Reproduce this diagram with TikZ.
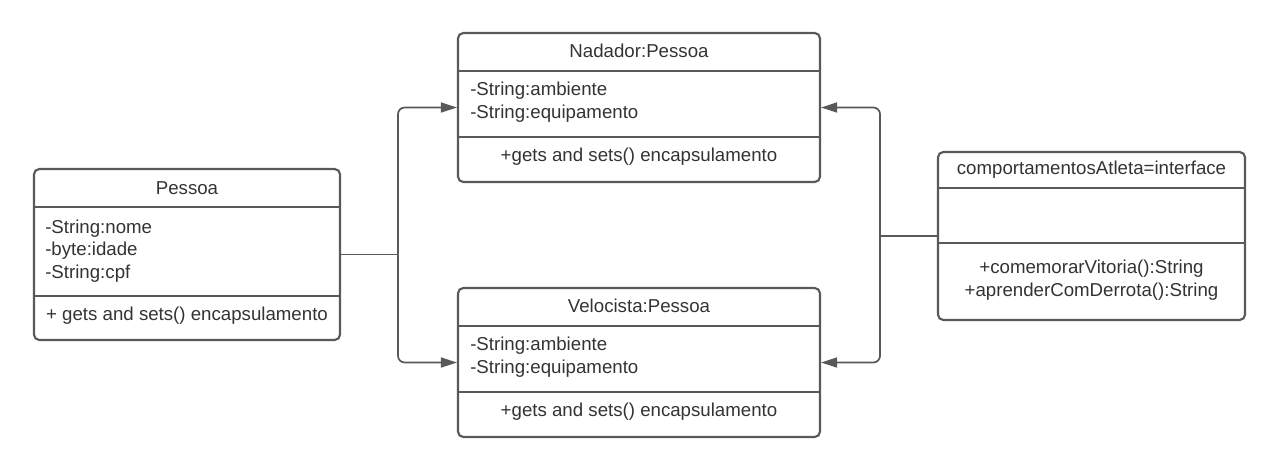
\documentclass[tikz,border=0pt]{standalone}
\usepackage{fontspec}
\setmainfont{Liberation Sans}
\usetikzlibrary{arrows.meta}
\definecolor{umlline}{HTML}{595959}
\definecolor{umltext}{HTML}{333333}
\tikzset{
  classbox/.style={draw=umlline, line width=1.6pt, rounded corners=4pt, inner sep=0pt},
  divider/.style={draw=umlline, line width=1.6pt},
  conn/.style={draw=umlline, line width=1.3pt, rounded corners=5pt},
  memtext/.style={text=umltext, font=\fontsize{14}{17}\selectfont, inner sep=0pt},
}
\begin{document}
\begin{tikzpicture}[x=0.75pt, y=-0.75pt, >={Triangle[length=12pt,width=7.5pt]}]
	\useasboundingbox (0,0) rectangle (1280,471);
	% class boxes
	\node[classbox, minimum width=229.5pt, minimum height=128.25pt] (pessoa) at (187,254.5) {};
	\node[classbox, minimum width=271.5pt, minimum height=111.75pt] (nadador) at (639,107.5) {};
	\node[classbox, minimum width=271.5pt, minimum height=111.75pt] (velocista) at (639,362.5) {};
	\node[classbox, minimum width=230.25pt, minimum height=126pt] (atleta) at (1091.5,236) {};
	
	\draw[divider] (pessoa.west |- 0,207)--(pessoa.east |- 0,207)
	(pessoa.west |- 0,296)--(pessoa.east |- 0,296);
	\draw[divider] (nadador.west |- 0,71)--(nadador.east |- 0,71)
	(nadador.west |- 0,137)--(nadador.east |- 0,137);
	\draw[divider] (velocista.west |- 0,326)--(velocista.east |- 0,326)
	(velocista.west |- 0,392)--(velocista.east |- 0,392);
	\draw[divider] (atleta.west |- 0,188)--(atleta.east |- 0,188)
	(atleta.west |- 0,243)--(atleta.east |- 0,243);
	
	% texts
	\node[memtext] (pessoaName) at (187,188) {Pessoa};
	\node[memtext, anchor=west, align=left] (pessoaAttr) at (45,251) {-String:nome\\-byte:idade\\-String:cpf};
	\node[memtext] (pessoaOps) at (187,316) {+ gets and sets() encapsulamento};
	
	\node[memtext] (nadadorName) at (639,51) {Nadador:Pessoa};
	\node[memtext, anchor=west, align=left] (nadadorAttr) at (470,102) {-String:ambiente\\-String:equipamento};
	\node[memtext] (nadadorOps) at (639,157) {+gets and sets() encapsulamento};
	
	\node[memtext] (velocistaName) at (639,306) {Velocista:Pessoa};
	\node[memtext, anchor=west, align=left] (velocistaAttr) at (470,357) {-String:ambiente\\-String:equipamento};
	\node[memtext] (velocistaOps) at (639,412) {+gets and sets() encapsulamento};
	
	\node[memtext] (atletaName) at (1091.5,170) {comportamentosAtleta=interface};
	\node[memtext, align=center] (atletaOps) at (1091.5,280) {+comemorarVitoria():String\\+aprenderComDerrota():String};
	
	% connectors
	\coordinate (splitL) at (398,254.5);
	\coordinate (splitR) at (880,236);
	\draw[conn] (pessoa.east)--(splitL);
	\draw[conn,->] (splitL) |- (nadador.west);
	\draw[conn,->] (splitL) |- (velocista.west);
	\draw[conn] (atleta.west)--(splitR);
	\draw[conn,->] (splitR) |- (nadador.east);
	\draw[conn,->] (splitR) |- (velocista.east);
\end{tikzpicture}
\end{document}
